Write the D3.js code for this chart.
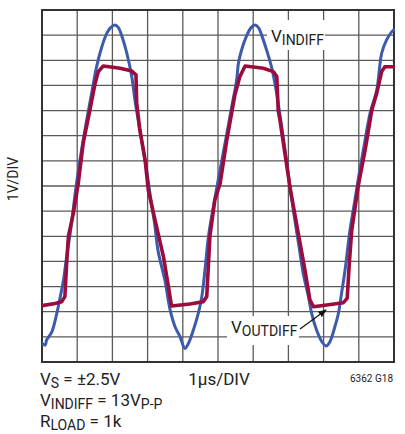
<!DOCTYPE html>
<html lang="en">
<head>
<meta charset="UTF-8">
<title>VINDIFF / VOUTDIFF</title>
<script src="https://cdn.jsdelivr.net/npm/d3@7"></script>
<style>
  body { margin: 0; background: #fff; }
  text { font-family: "Liberation Sans Narrow", "Roboto", sans-serif; fill: #222; }
  .grid line { stroke: #5a5a5a; stroke-width: 1.3; }
  .frame { fill: none; stroke: #333; stroke-width: 2; }
  .line { fill: none; stroke-linejoin: round; stroke-linecap: round; }
</style>
</head>
<body>
<svg id="chart" width="405" height="434"></svg>
<script>
// time in µs, voltage in V
const blueT = [0, 0.09, 0.13, 0.28, 0.42, 0.51, 0.61, 0.70, 0.80, 0.89, 1.0, 1.17, 1.30, 1.41, 1.55, 1.70, 1.84, 1.95, 2.07, 2.17, 2.26, 2.41, 2.55, 2.64, 2.78, 2.97, 3.10, 3.20, 3.30, 3.49, 3.64, 3.78, 3.92, 4.06, 4.16, 4.30, 4.44, 4.54, 4.63, 4.73, 4.87, 5.0, 5.20, 5.39, 5.53, 5.58, 5.67, 5.82, 5.94, 6.05, 6.15, 6.24, 6.38, 6.53, 6.65, 6.81, 6.95, 7.05, 7.20, 7.30, 7.42, 7.57, 7.66, 7.80, 7.95, 8.07, 8.18, 8.32, 8.42, 8.51, 8.61, 8.75, 8.89, 9.0, 9.15, 9.32, 9.51, 9.65, 9.79, 9.94, 10.0]
const blueV = [-6.26, -6.33, -6.13, -5.8, -5.07, -4.47, -3.74, -2.81, -1.9, -0.89, 0.3, 1.83, 2.85, 3.69, 4.74, 5.54, 6.07, 6.3, 6.4, 6.3, 6.0, 5.28, 4.35, 3.42, 2.23, 0.64, -0.6, -1.5, -2.6, -3.74, -4.93, -5.6, -5.99, -6.46, -6.26, -5.73, -5.07, -4.4, -3.34, -2.0, -0.82, 0.2, 1.7, 3.15, 4.22, 4.88, 5.41, 6.0, 6.3, 6.4, 6.3, 6.0, 5.41, 4.68, 3.82, 2.36, 1.0, -0.1, -1.5, -2.4, -3.47, -4.4, -5.07, -5.73, -6.19, -6.36, -6.19, -5.6, -5.07, -4.27, -3.34, -1.75, -0.56, 0.4, 1.6, 2.89, 3.82, 5.28, 5.81, 6.14, 6.22]

const redT = [0, 0.37, 0.56, 0.65, 0.70, 0.75, 0.89, 1.03, 1.17, 1.36, 1.51, 1.60, 1.74, 2.22, 2.55, 2.67, 2.69, 2.78, 2.93, 3.02, 3.21, 3.45, 3.59, 3.68, 4.20, 4.58, 4.68, 4.73, 4.77, 4.91, 5.06, 5.25, 5.48, 5.62, 5.77, 6.29, 6.57, 6.67, 6.71, 6.76, 6.90, 7.05, 7.28, 7.47, 7.61, 7.71, 8.09, 8.56, 8.67, 8.73, 8.80, 8.99, 9.18, 9.37, 9.51, 9.65, 9.74, 9.98]
const redV = [-4.76, -4.67, -4.6, -4.4, -3.08, -2.0, -1.09, 0.1, 1.70, 3.02, 4.09, 4.55, 4.77, 4.68, 4.57, 4.42, 3.29, 2.23, 1.03, -0.16, -1.35, -2.81, -4.0, -4.77, -4.69, -4.6, -4.4, -3.08, -2.0, -0.56, 0.1, 1.83, 3.62, 4.35, 4.77, 4.68, 4.55, 4.35, 3.02, 2.63, 1.3, -0.09, -1.88, -3.34, -4.53, -4.8, -4.73, -4.64, -4.47, -3.08, -1.75, 0.05, 1.43, 3.02, 3.69, 4.55, 4.74, 4.74]

const xTicks = d3.range(0, 11)     // 1µs/DIV, 10 divisions
const yTicks = d3.range(-7, 8)     // 1V/DIV, 14 divisions

const svg = d3.select("#chart")
const pLeft = 42, pRight = 394, pTop = 10, pBottom = 362

let x = d3.scaleLinear().domain([0, 10]).range([pLeft, pRight])
let y = d3.scaleLinear().domain([-7, 7]).range([pBottom, pTop])

let grid = svg.append("g").attr("class", "grid")
grid.selectAll(".v").data(xTicks).join("line")
    .attr("x1", d => x(d)).attr("x2", d => x(d))
    .attr("y1", pTop).attr("y2", pBottom)
grid.selectAll(".h").data(yTicks).join("line")
    .attr("x1", pLeft).attr("x2", pRight)
    .attr("y1", d => y(d)).attr("y2", d => y(d))

svg.append("rect").attr("class", "frame")
    .attr("x", pLeft).attr("y", pTop)
    .attr("width", pRight - pLeft).attr("height", pBottom - pTop)

// label boxes knock out the grid
svg.append("rect").attr("x", 267).attr("y", 20).attr("width", 58).attr("height", 30).attr("fill", "#fff")
svg.append("rect").attr("x", 227).attr("y", 316).attr("width", 72).attr("height", 29).attr("fill", "#fff")

let clip = svg.append("clipPath").attr("id", "clip")
clip.append("rect").attr("x", pLeft).attr("y", pTop - 5).attr("width", pRight - pLeft + 1).attr("height", pBottom - pTop + 10)

let plot = svg.append("g").attr("clip-path", "url(#clip)")

let blue = blueT.map((t, i) => ({t: t, v: blueV[i]}))
let red = redT.map((t, i) => ({t: t, v: redV[i]}))

plot.append("path").datum(blue)
    .attr("class", "line")
    .attr("stroke", "#3d5aab").attr("stroke-width", 3)
    .attr("d", d3.line().x(d => x(d.t)).y(d => y(d.v)).curve(d3.curveCatmullRom.alpha(0.5)))

plot.append("path").datum(red)
    .attr("class", "line")
    .attr("stroke", "#9b0b3b").attr("stroke-width", 3.6)
    .attr("d", d3.line().x(d => x(d.t)).y(d => y(d.v)))

// labels
function label(xp, yp, parts, size) {
    let t = svg.append("text").attr("x", xp).attr("y", yp).attr("font-size", size)
    parts.forEach(p => {
        t.append("tspan")
            .attr("font-size", p.sub ? size - 3 : size)
            .attr("dy", p.sub ? 3 : (p.back ? -3 : 0))
            .text(p.s)
    })
    return t
}

label(271, 42, [{s: "V"}, {s: "INDIFF", sub: true}], 17)
label(231, 333, [{s: "V"}, {s: "OUTDIFF", sub: true}], 17)

// arrow to VOUTDIFF trace
svg.append("defs").append("marker")
    .attr("id", "arr").attr("viewBox", "0 0 10 10")
    .attr("refX", 9).attr("refY", 5)
    .attr("markerWidth", 7).attr("markerHeight", 7)
    .attr("orient", "auto")
    .append("path").attr("d", "M0,1 L10,5 L0,9 Z").attr("fill", "#111")
svg.append("line")
    .attr("x1", 300).attr("y1", 329).attr("x2", 326).attr("y2", 310)
    .attr("stroke", "#111").attr("stroke-width", 1.2)
    .attr("marker-end", "url(#arr)")

svg.append("text")
    .attr("transform", "translate(18,179) rotate(-90)")
    .attr("text-anchor", "middle").attr("font-size", 14)
    .text("1V/DIV")

label(40, 385, [{s: "V"}, {s: "S", sub: true}, {s: " = ±2.5V", back: true}], 17)
label(40, 406, [{s: "V"}, {s: "INDIFF", sub: true}, {s: " = 13V", back: true}, {s: "P-P", sub: true}], 17)
label(40, 427, [{s: "R"}, {s: "LOAD", sub: true}, {s: " = 1k", back: true}], 17)

svg.append("text").attr("x", 219).attr("y", 385)
    .attr("text-anchor", "middle").attr("font-size", 17)
    .text("1µs/DIV")

svg.append("text").attr("x", 393).attr("y", 382)
    .attr("text-anchor", "end").attr("font-size", 10)
    .text("6362 G18")
</script>
</body>
</html>
